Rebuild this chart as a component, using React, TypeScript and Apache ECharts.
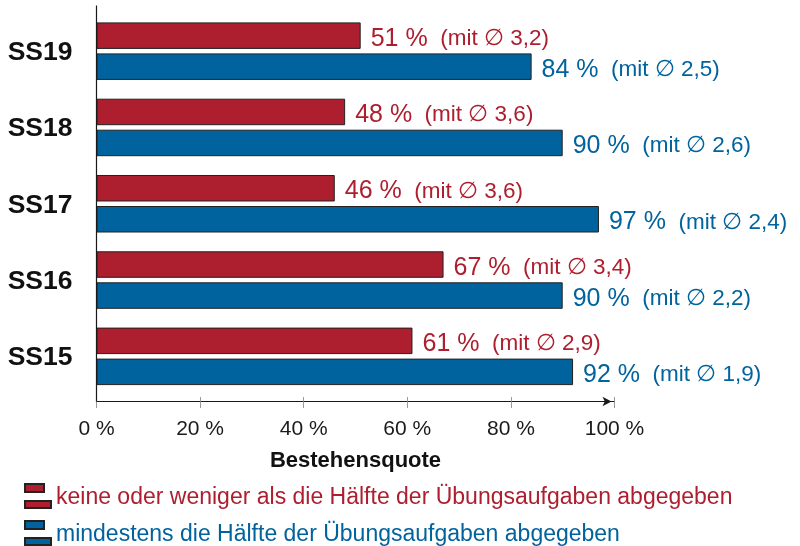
import React, { useEffect, useRef } from 'react';
import * as echarts from 'echarts';

const categories = ['SS15', 'SS16', 'SS17', 'SS18', 'SS19'];
const lowShare = [61, 67, 46, 48, 51];
const lowAvg = [2.9, 3.4, 3.6, 3.6, 3.2];
const highShare = [92, 90, 97, 90, 84];
const highAvg = [1.9, 2.2, 2.4, 2.6, 2.5];
const lowName = 'keine oder weniger als die Hälfte der Übungsaufgaben abgegeben';
const highName = 'mindestens die Hälfte der Übungsaufgaben abgegeben';
const axisTitle = 'Bestehensquote';

const RED = '#AD1E2E';
const BLUE = '#00639E';
const FONT = '"Liberation Sans", Arial, sans-serif';

export default function App() {
  const ref = useRef<HTMLDivElement>(null);
  useEffect(() => {
    const chart = echarts.init(ref.current!, null, { renderer: 'svg' });
    const fmt = (v: number) => v.toFixed(1).replace('.', ',');
    const mkLabel = (avgs: number[], color: string) => ({
      show: true,
      position: 'right',
      distance: 10,
      formatter: (p: any) => `{a|${p.value} %}{b|  (mit ∅ ${fmt(avgs[p.dataIndex])})}`,
      rich: {
        a: { fontSize: 25, color, fontFamily: FONT, verticalAlign: 'bottom', lineHeight: 27 },
        b: { fontSize: 22.5, color, fontFamily: FONT, verticalAlign: 'bottom', lineHeight: 27 },
      },
    });
    const mkLegend = (name: string, color: string, top: number) => ({
      orient: 'vertical', left: 24, top, padding: 0, itemWidth: 26, itemHeight: 24,
      icon: 'path://M0,0H19V8H0ZM0,17H26V24H0Z',
      selectedMode: false,
      data: [{ name, textStyle: { color } }],
      textStyle: { fontSize: 23, fontFamily: FONT, padding: [6, 0, 0, 0] },
    });
    chart.setOption({
      animation: false,
      grid: { left: 96.5, right: 185.5, top: 13, bottom: 151.5, containLabel: false },
      xAxis: [
        {
          type: 'value', min: 0, max: 100, interval: 20, position: 'bottom', offset: 7,
          axisLine: { show: true, lineStyle: { color: '#1a1a1a', width: 1.2 }, symbol: ['none', 'arrow'], symbolSize: [7, 9], symbolOffset: [0, -3] },
          axisTick: { show: true, inside: true, length: 4.5, lineStyle: { color: '#9a9a9a' } },
          axisLabel: { formatter: (v: number) => `${v} %`, fontSize: 21, color: '#1a1a1a', margin: 15, fontFamily: FONT },
          splitLine: { show: false },
          name: axisTitle, nameLocation: 'middle', nameGap: 47,
          nameTextStyle: { fontSize: 22, fontWeight: 'bold', color: '#111', fontFamily: FONT, verticalAlign: 'top' },
        },
        {
          type: 'value', min: 0, max: 100, interval: 20, position: 'bottom', offset: 7,
          axisLine: { show: false },
          axisTick: { show: true, inside: false, length: 6.5, lineStyle: { color: '#9a9a9a' } },
          axisLabel: { show: false },
          splitLine: { show: false },
        },
      ],
      yAxis: {
        type: 'category', data: categories,
        axisLine: { show: false }, axisTick: { show: false },
        axisLabel: { fontSize: 26.5, fontWeight: 'bold', color: '#111', margin: 24, fontFamily: FONT },
      },
      legend: [mkLegend(lowName, RED, 483), mkLegend(highName, BLUE, 520)],
      graphic: [
        { type: 'line', shape: { x1: 96.5, y1: 5.5, x2: 96.5, y2: 401.5 }, style: { stroke: '#1a1a1a', lineWidth: 1.2 }, silent: true, z: 10 },
      ],
      series: [
        { name: lowName, type: 'bar', data: lowShare, barWidth: 26.5, barGap: '17%', itemStyle: { color: RED, borderColor: '#222', borderWidth: 1 }, label: mkLabel(lowAvg, RED) },
        { name: highName, type: 'bar', data: highShare, barWidth: 26.5, barGap: '17%', itemStyle: { color: BLUE, borderColor: '#222', borderWidth: 1 }, label: mkLabel(highAvg, BLUE) },
      ],
    });
    return () => chart.dispose();
  }, []);
  return <div ref={ref} style={{ position: 'fixed', left: 0, top: 0, width: 800, height: 546 }} />;
}
